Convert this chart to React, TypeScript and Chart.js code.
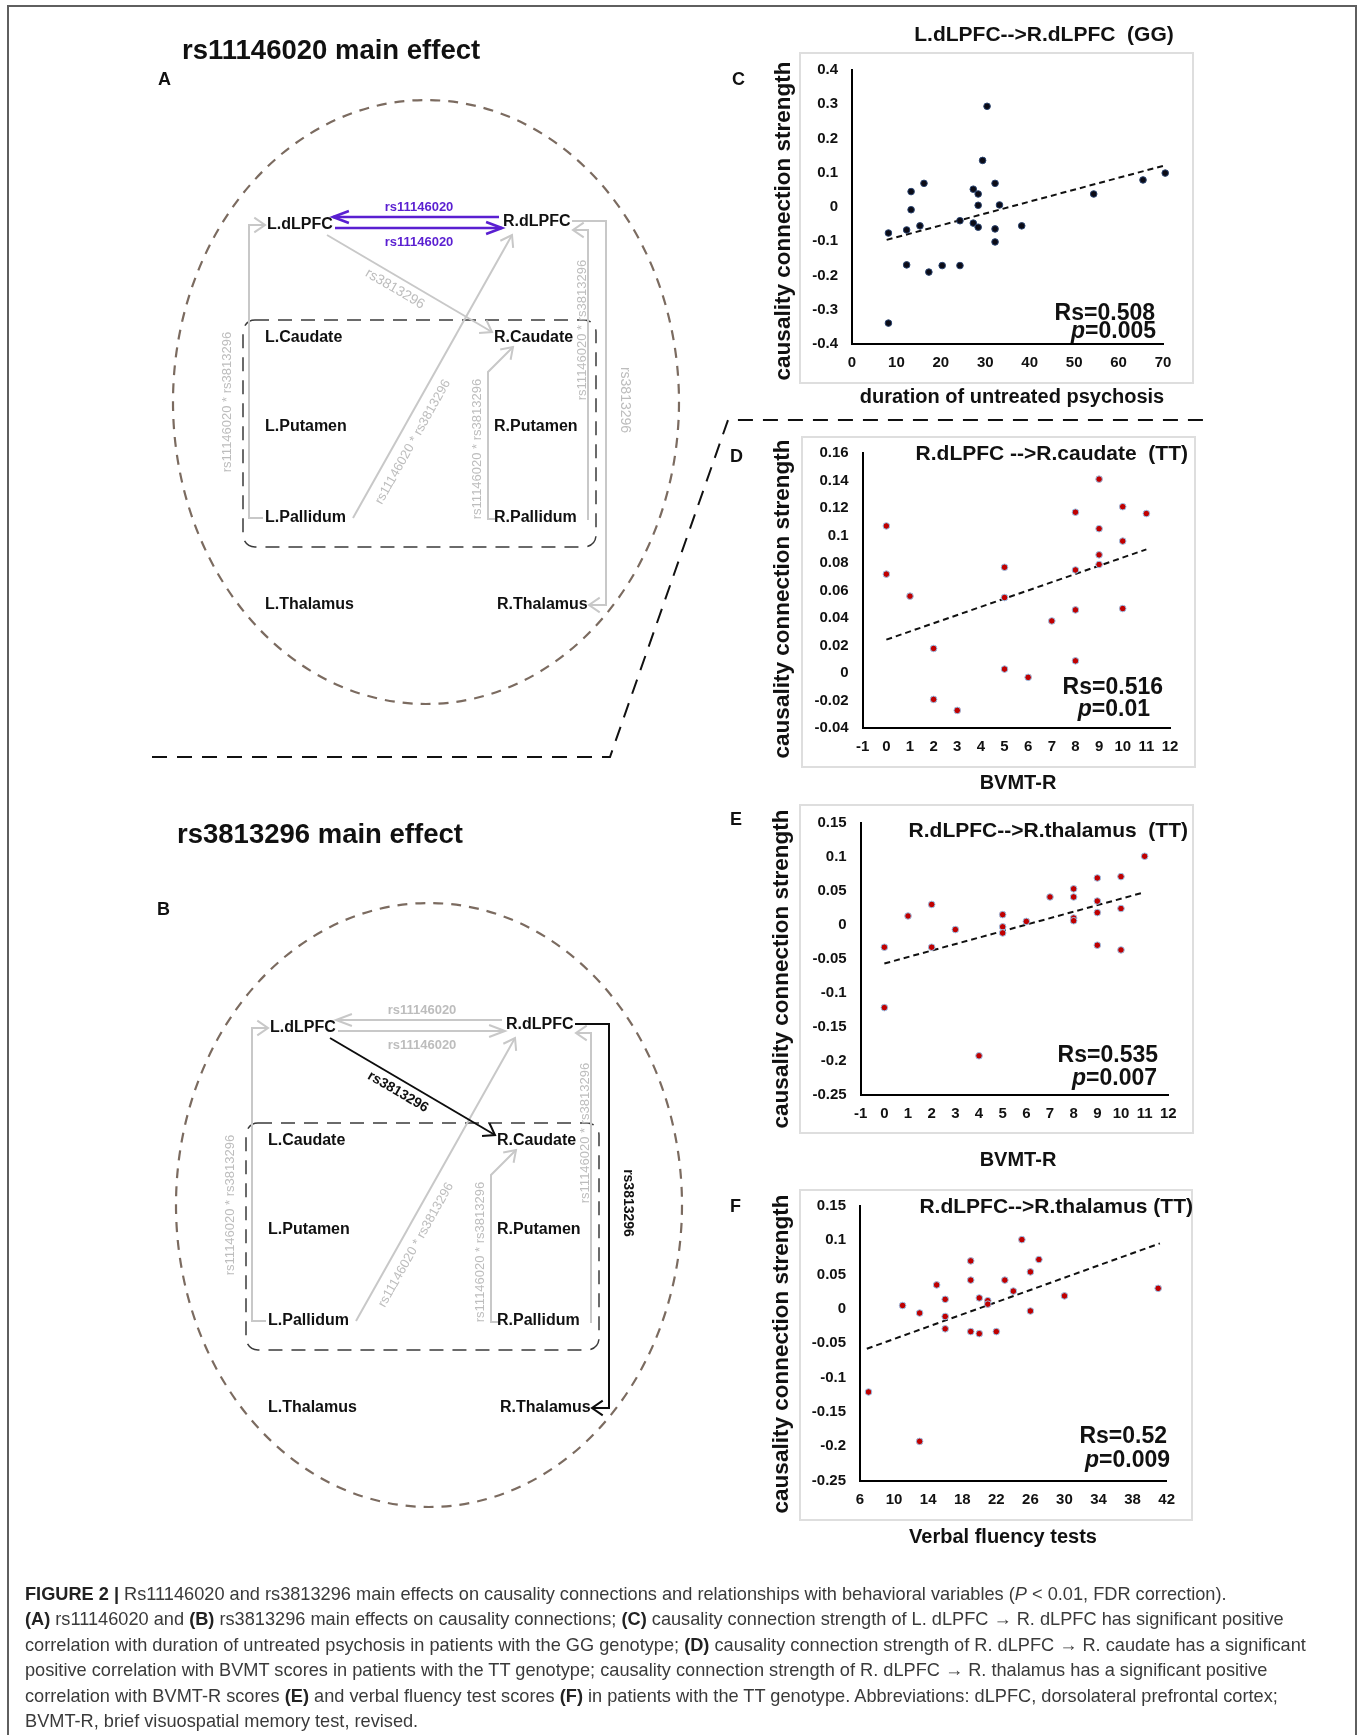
import React, { useEffect, useRef } from 'react';
import { Chart, registerables } from 'chart.js';

Chart.register(...registerables);

const FONT = '"Liberation Sans", Arial, Helvetica, sans-serif';
Chart.defaults.font.family = FONT;

// ================= Panel C data =================
const cDuration = [8.2, 8.2, 12.3, 12.3, 13.3, 13.3, 15.3, 16.2, 17.3, 20.3, 24.3, 24.3, 27.3, 27.3, 28.4, 28.4, 28.4, 29.4, 30.4, 32.2, 32.2, 32.2, 33.2, 38.2, 54.4, 65.5, 70.5, 70.5];
const cStrength = [-0.076, -0.339, -0.067, -0.169, 0.045, -0.008, -0.055, 0.069, -0.19, -0.171, -0.04, -0.171, 0.052, -0.047, 0.038, 0.005, -0.059, 0.136, 0.294, 0.069, -0.064, -0.102, 0.006, -0.055, 0.038, 0.079, 0.099, 0.089];
const cTrendX = [7.8, 70];
const cTrendY = [-0.096, 0.12];
const cXTicks = [0, 10, 20, 30, 40, 50, 60, 70];
const cXTickLabels = ['0', '10', '20', '30', '40', '50', '60', '70'];
const cYTicks = [-0.4, -0.3, -0.2, -0.1, 0, 0.1, 0.2, 0.3, 0.4];
const cYTickLabels = ['-0.4', '-0.3', '-0.2', '-0.1', '0', '0.1', '0.2', '0.3', '0.4'];
const cTitle = 'L.dLPFC-->R.dLPFC  (GG)';
const cXTitle = 'duration of untreated psychosis';
const cRs = 'Rs=0.508';
const cP = '=0.005';

// ================= Panel D data =================
const dBvmt = [0, 0, 1, 2, 2, 3, 5, 5, 5, 6, 7, 8, 8, 8, 8, 9, 9, 9, 9, 10, 10, 10, 11];
const dStrength = [0.107, 0.072, 0.056, 0.018, -0.019, -0.027, 0.077, 0.055, 0.003, -0.003, 0.038, 0.117, 0.075, 0.046, 0.009, 0.141, 0.105, 0.086, 0.079, 0.121, 0.096, 0.047, 0.116];
const dTrendX = [0, 11];
const dTrendY = [0.0244, 0.09];
const dXTicks = [-1, 0, 1, 2, 3, 4, 5, 6, 7, 8, 9, 10, 11, 12];
const dXTickLabels = ['-1', '0', '1', '2', '3', '4', '5', '6', '7', '8', '9', '10', '11', '12'];
const dYTicks = [-0.04, -0.02, 0, 0.02, 0.04, 0.06, 0.08, 0.1, 0.12, 0.14, 0.16];
const dYTickLabels = ['-0.04', '-0.02', '0', '0.02', '0.04', '0.06', '0.08', '0.1', '0.12', '0.14', '0.16'];
const dTitle = 'R.dLPFC -->R.caudate  (TT)';
const dXTitle = 'BVMT-R';
const dRs = 'Rs=0.516';
const dP = '=0.01';

// ================= Panel E data =================
const eBvmt = [0, 0, 1, 2, 2, 3, 4, 5, 5, 5, 6, 7, 8, 8, 8, 8, 9, 9, 9, 9, 10, 10, 10, 11];
const eStrength = [-0.033, -0.122, 0.013, 0.03, -0.033, -0.007, -0.193, 0.015, -0.003, -0.012, 0.005, 0.041, 0.053, 0.041, 0.01, 0.006, 0.069, 0.035, 0.018, -0.03, 0.071, 0.024, -0.037, 0.101];
const eTrendX = [0, 11];
const eTrendY = [-0.057, 0.048];
const eXTicks = [-1, 0, 1, 2, 3, 4, 5, 6, 7, 8, 9, 10, 11, 12];
const eXTickLabels = ['-1', '0', '1', '2', '3', '4', '5', '6', '7', '8', '9', '10', '11', '12'];
const eYTicks = [-0.25, -0.2, -0.15, -0.1, -0.05, 0, 0.05, 0.1, 0.15];
const eYTickLabels = ['-0.25', '-0.2', '-0.15', '-0.1', '-0.05', '0', '0.05', '0.1', '0.15'];
const eTitle = 'R.dLPFC-->R.thalamus  (TT)';
const eXTitle = 'BVMT-R';
const eRs = 'Rs=0.535';
const eP = '=0.007';

// ================= Panel F data =================
const fFluency = [7, 11, 13, 13, 15, 16, 16, 16, 19, 19, 19, 20, 20, 21, 21, 22, 23, 24, 25, 26, 26, 27, 30, 41];
const fStrength = [-0.121, 0.005, -0.006, -0.193, 0.035, 0.014, -0.011, -0.029, 0.07, 0.042, -0.033, 0.016, -0.036, 0.012, 0.007, -0.033, 0.042, 0.026, 0.101, 0.054, -0.003, 0.072, 0.019, 0.03];
const fTrendX = [6.8, 41.2];
const fTrendY = [-0.058, 0.0955];
const fXTicks = [6, 10, 14, 18, 22, 26, 30, 34, 38, 42];
const fXTickLabels = ['6', '10', '14', '18', '22', '26', '30', '34', '38', '42'];
const fYTicks = [-0.25, -0.2, -0.15, -0.1, -0.05, 0, 0.05, 0.1, 0.15];
const fYTickLabels = ['-0.25', '-0.2', '-0.15', '-0.1', '-0.05', '0', '0.05', '0.1', '0.15'];
const fTitle = 'R.dLPFC-->R.thalamus (TT)';
const fXTitle = 'Verbal fluency tests';
const fRs = 'Rs=0.52';
const fP = '=0.009';

const yAxisTitle = 'causality connection strength';

// ================= Diagram (panels A, B) =================
const diagramPanelLetters = ['A', 'B'];
const diagramTitles = ['rs11146020 main effect', 'rs3813296 main effect'];
const panelOffsetX = [0, 3];
const panelOffsetY = [0, 803];

const nodeNames = ['L.dLPFC', 'R.dLPFC', 'L.Caudate', 'R.Caudate', 'L.Putamen', 'R.Putamen', 'L.Pallidum', 'R.Pallidum', 'L.Thalamus', 'R.Thalamus'];
const nodeX = [267, 503, 265, 494, 265, 494, 265, 494, 265, 497];
const nodeY = [225, 222, 338, 338, 427, 427, 518, 518, 605, 605];

const edgeLabels = ['rs11146020', 'rs11146020', 'rs3813296', 'rs11146020 * rs3813296', 'rs11146020 * rs3813296', 'rs11146020 * rs3813296', 'rs11146020 * rs3813296', 'rs3813296'];
const edgePathX = [[499, 333], [335, 502], [327, 492], [353, 512], [263, 249, 249, 265], [495, 488, 488, 513], [588, 588, 573], [572, 606, 606, 589]];
const edgePathY = [[217, 217], [228, 228], [235, 332], [518, 235], [518, 518, 225, 225], [519, 519, 372, 347], [520, 230, 230], [221, 221, 605, 605]];
const edgeStyleA = ['purple', 'purple', 'gray', 'gray', 'gray', 'gray', 'gray', 'gray'];
const edgeStyleB = ['gray', 'gray', 'black', 'gray', 'gray', 'gray', 'gray', 'black'];
const edgeLabelX = [419, 419, 395, 413, 227, 477, 582, 625];
const edgeLabelY = [207, 242, 289, 442, 402, 449, 330, 400];
const edgeLabelAngle = [0, 0, 30.4, -60.7, -90, -90, -90, 90];

const ellipseC = [426, 402];
const ellipseR = [253, 302];
const innerBoxX = [243, 596];
const innerBoxY = [320, 547];

// dashed separator between panel A and panels C/D
const sepX = [152, 610, 728, 1206];
const sepY = [757, 757, 420, 420];

// ================= Caption =================
type Seg = [string, 'n' | 'b' | 'i'];
const captionLines: Seg[][] = [
  [['FIGURE 2 |', 'b'], [' Rs11146020 and rs3813296 main effects on causality connections and relationships with behavioral variables (', 'n'], ['P', 'i'], [' < 0.01, FDR correction).', 'n']],
  [['(A)', 'b'], [' rs11146020 and ', 'n'], ['(B)', 'b'], [' rs3813296 main effects on causality connections; ', 'n'], ['(C)', 'b'], [' causality connection strength of L. dLPFC \u2192 R. dLPFC has significant positive', 'n']],
  [['correlation with duration of untreated psychosis in patients with the GG genotype; ', 'n'], ['(D)', 'b'], [' causality connection strength of R. dLPFC \u2192 R. caudate has a significant', 'n']],
  [['positive correlation with BVMT scores in patients with the TT genotype; causality connection strength of R. dLPFC \u2192 R. thalamus has a significant positive', 'n']],
  [['correlation with BVMT-R scores ', 'n'], ['(E)', 'b'], [' and verbal fluency test scores ', 'n'], ['(F)', 'b'], [' in patients with the TT genotype. Abbreviations: dLPFC, dorsolateral prefrontal cortex;', 'n']],
  [['BVMT-R, brief visuospatial memory test, revised.', 'n']],
];

// ================= helpers =================
function drawText(ctx: CanvasRenderingContext2D, text: string, x: number, y: number, font: string, align: CanvasTextAlign, baseline: CanvasTextBaseline, color: string, rot = 0) {
  ctx.save();
  ctx.font = font;
  ctx.fillStyle = color;
  ctx.textAlign = align;
  ctx.textBaseline = baseline;
  ctx.translate(x, y);
  if (rot) ctx.rotate((rot * Math.PI) / 180);
  ctx.fillText(text, 0, 0);
  ctx.restore();
}

interface Rect { left: number; top: number; right: number; bottom: number }
interface PanelSpec {
  letter: string;
  xs: number[]; ys: number[]; trendX: number[]; trendY: number[];
  xTicks: number[]; xTickLabels: string[]; yTicks: number[]; yTickLabels: string[];
  title: string; xTitle: string; rs: string; p: string;
  dotFill: string; dotEdge: string;
  canvas: { left: number; top: number; width: number; height: number };
  area: Rect; frame: Rect;
  letterPos: number[];
  titlePos: number[]; titleAlign: CanvasTextAlign;
  yTitlePos: number[]; xTitlePos: number[];
  rsPos: number[]; pPos: number[];
}

const Y_W = 70;
const X_H = 40;

function buildScatter(s: PanelSpec): any {
  const pts = s.xs.map((x, i) => ({ x, y: s.ys[i] }));
  const trend = s.trendX.map((x, i) => ({ x, y: s.trendY[i] }));
  const c = s.canvas;
  const a = s.area;
  const ox = c.left;
  const oy = c.top;
  const decor = {
    id: 'decor' + s.letter,
    beforeDraw(chart: any) {
      const ctx = chart.ctx as CanvasRenderingContext2D;
      ctx.save();
      ctx.strokeStyle = '#dedede';
      ctx.lineWidth = 2;
      ctx.strokeRect(s.frame.left - ox, s.frame.top - oy, s.frame.right - s.frame.left, s.frame.bottom - s.frame.top);
      ctx.restore();
    },
    afterDraw(chart: any) {
      const ctx = chart.ctx as CanvasRenderingContext2D;
      drawText(ctx, s.letter, s.letterPos[0] - ox, s.letterPos[1] - oy, `bold 18px ${FONT}`, 'left', 'alphabetic', '#111');
      drawText(ctx, s.title, s.titlePos[0] - ox, s.titlePos[1] - oy, `bold 21px ${FONT}`, s.titleAlign, 'alphabetic', '#111');
      drawText(ctx, yAxisTitle, s.yTitlePos[0] - ox, s.yTitlePos[1] - oy, `bold 22.5px ${FONT}`, 'center', 'middle', '#111', -90);
      drawText(ctx, s.xTitle, s.xTitlePos[0] - ox, s.xTitlePos[1] - oy, `bold 20px ${FONT}`, 'center', 'alphabetic', '#111');
      drawText(ctx, s.rs, s.rsPos[0] - ox, s.rsPos[1] - oy, `bold 23px ${FONT}`, 'right', 'alphabetic', '#111');
      drawText(ctx, s.p, s.pPos[0] - ox, s.pPos[1] - oy, `bold 23px ${FONT}`, 'right', 'alphabetic', '#111');
      ctx.save();
      ctx.font = `bold 23px ${FONT}`;
      const w = ctx.measureText(s.p).width;
      ctx.restore();
      drawText(ctx, 'p', s.pPos[0] - ox - w, s.pPos[1] - oy, `italic bold 23px ${FONT}`, 'right', 'alphabetic', '#111');
    },
  };
  const tickFont = { size: 15, weight: 'bold' as const, family: FONT };
  return {
    type: 'scatter',
    data: {
      datasets: [
        { type: 'scatter', data: pts, backgroundColor: s.dotFill, borderColor: s.dotEdge, borderWidth: 1, pointRadius: 3.3, order: 0, clip: false },
        { type: 'line', data: trend, borderColor: '#111', borderWidth: 2, borderDash: [6, 4], pointRadius: 0, fill: false, tension: 0, order: 1, clip: false },
      ],
    },
    options: {
      responsive: false,
      animation: false,
      events: [],
      layout: {
        padding: {
          left: a.left - c.left - Y_W,
          top: a.top - c.top,
          right: c.left + c.width - a.right,
          bottom: c.top + c.height - a.bottom - X_H,
        },
      },
      plugins: { legend: { display: false }, tooltip: { enabled: false }, title: { display: false } },
      scales: {
        x: {
          type: 'linear',
          position: 'bottom',
          min: s.xTicks[0],
          max: s.xTicks[s.xTicks.length - 1],
          grid: { display: false, drawTicks: false },
          border: { display: true, color: '#000', width: 2 },
          ticks: { autoSkip: false, maxRotation: 0, padding: 10, color: '#111', font: tickFont, callback: (_v: any, i: number) => s.xTickLabels[i] },
          afterBuildTicks: (sc: any) => { sc.ticks = s.xTicks.map((v) => ({ value: v })); },
          afterFit: (sc: any) => { sc.height = X_H; },
        },
        y: {
          type: 'linear',
          position: 'left',
          min: s.yTicks[0],
          max: s.yTicks[s.yTicks.length - 1],
          grid: { display: false, drawTicks: false },
          border: { display: true, color: '#000', width: 2 },
          ticks: { autoSkip: false, padding: 14, color: '#111', font: tickFont, callback: (_v: any, i: number) => s.yTickLabels[i] },
          afterBuildTicks: (sc: any) => { sc.ticks = s.yTicks.map((v) => ({ value: v })); },
          afterFit: (sc: any) => { sc.width = Y_W; },
        },
      },
    },
    plugins: [decor],
  };
}

const RED = '#c00000';
const RED_EDGE = '#9cc3e8';

const specs: PanelSpec[] = [
  {
    letter: 'C', xs: cDuration, ys: cStrength, trendX: cTrendX, trendY: cTrendY,
    xTicks: cXTicks, xTickLabels: cXTickLabels, yTicks: cYTicks, yTickLabels: cYTickLabels,
    title: cTitle, xTitle: cXTitle, rs: cRs, p: cP, dotFill: '#0b0b16', dotEdge: '#2a4470',
    canvas: { left: 720, top: 10, width: 490, height: 405 },
    area: { left: 852, top: 70, right: 1163, bottom: 344 },
    frame: { left: 800, top: 53, right: 1193, bottom: 383 },
    letterPos: [732, 85], titlePos: [1044, 41], titleAlign: 'center',
    yTitlePos: [783.5, 221], xTitlePos: [1012, 403],
    rsPos: [1155, 320], pPos: [1156, 338],
  },
  {
    letter: 'D', xs: dBvmt, ys: dStrength, trendX: dTrendX, trendY: dTrendY,
    xTicks: dXTicks, xTickLabels: dXTickLabels, yTicks: dYTicks, yTickLabels: dYTickLabels,
    title: dTitle, xTitle: dXTitle, rs: dRs, p: dP, dotFill: RED, dotEdge: RED_EDGE,
    canvas: { left: 720, top: 425, width: 490, height: 375 },
    area: { left: 862.7, top: 453, right: 1170, bottom: 728.3 },
    frame: { left: 802, top: 437, right: 1195, bottom: 767 },
    letterPos: [730, 461.7], titlePos: [1188, 460], titleAlign: 'right',
    yTitlePos: [782.5, 599], xTitlePos: [1018, 789.3],
    rsPos: [1163, 694], pPos: [1150, 716],
  },
  {
    letter: 'E', xs: eBvmt, ys: eStrength, trendX: eTrendX, trendY: eTrendY,
    xTicks: eXTicks, xTickLabels: eXTickLabels, yTicks: eYTicks, yTickLabels: eYTickLabels,
    title: eTitle, xTitle: eXTitle, rs: eRs, p: eP, dotFill: RED, dotEdge: RED_EDGE,
    canvas: { left: 720, top: 800, width: 490, height: 375 },
    area: { left: 860.7, top: 820, right: 1168.3, bottom: 1094.5 },
    frame: { left: 800, top: 805, right: 1193, bottom: 1133 },
    letterPos: [730, 825], titlePos: [1188, 836.7], titleAlign: 'right',
    yTitlePos: [781.5, 969], xTitlePos: [1018, 1165.7],
    rsPos: [1158, 1061.7], pPos: [1157, 1085],
  },
  {
    letter: 'F', xs: fFluency, ys: fStrength, trendX: fTrendX, trendY: fTrendY,
    xTicks: fXTicks, xTickLabels: fXTickLabels, yTicks: fYTicks, yTickLabels: fYTickLabels,
    title: fTitle, xTitle: fXTitle, rs: fRs, p: fP, dotFill: RED, dotEdge: RED_EDGE,
    canvas: { left: 720, top: 1180, width: 490, height: 375 },
    area: { left: 860, top: 1206, right: 1166.7, bottom: 1480.5 },
    frame: { left: 800, top: 1190, right: 1192, bottom: 1520 },
    letterPos: [730, 1211.7], titlePos: [1193, 1213.3], titleAlign: 'right',
    yTitlePos: [781.5, 1354], xTitlePos: [1003, 1542.7],
    rsPos: [1167, 1442.7], pPos: [1170, 1467.3],
  },
];

function buildDiagram(): any {
  const nodePts: { x: number; y: number }[] = [];
  panelOffsetX.forEach((ox, p) => {
    nodeX.forEach((x, i) => nodePts.push({ x: x + ox, y: nodeY[i] + panelOffsetY[p] }));
  });
  const sepPts = sepX.map((x, i) => ({ x, y: sepY[i] }));
  const styles = [edgeStyleA, edgeStyleB];
  const titlePos = [[182, 59.3], [177, 842.7]];
  const letterPos = [[158, 85], [157, 915]];

  const plugin = {
    id: 'diagram',
    afterDatasetsDraw(chart: any) {
      const ctx = chart.ctx as CanvasRenderingContext2D;
      const X = (v: number) => chart.scales.x.getPixelForValue(v);
      const Y = (v: number) => chart.scales.y.getPixelForValue(v);

      // outer frame
      ctx.save();
      ctx.strokeStyle = '#5f5f5f';
      ctx.lineWidth = 2;
      ctx.beginPath();
      ctx.moveTo(X(8), Y(1735));
      ctx.lineTo(X(8), Y(6));
      ctx.lineTo(X(1356), Y(6));
      ctx.lineTo(X(1356), Y(1735));
      ctx.stroke();
      ctx.restore();

      const meta = chart.getDatasetMeta(0);

      for (let p = 0; p < 2; p++) {
        const ox = panelOffsetX[p];
        const oy = panelOffsetY[p];
        drawText(ctx, diagramTitles[p], X(titlePos[p][0]), Y(titlePos[p][1]), `bold 27.5px ${FONT}`, 'left', 'alphabetic', '#111');
        drawText(ctx, diagramPanelLetters[p], X(letterPos[p][0]), Y(letterPos[p][1]), `bold 18px ${FONT}`, 'left', 'alphabetic', '#111');

        // ellipse
        ctx.save();
        ctx.strokeStyle = '#7b6b60';
        ctx.lineWidth = 2.2;
        ctx.setLineDash([10, 8]);
        ctx.beginPath();
        ctx.ellipse(X(ellipseC[0] + ox), Y(ellipseC[1] + oy), X(ellipseR[0]) - X(0), Y(ellipseR[1]) - Y(0), 0, 0, Math.PI * 2);
        ctx.stroke();
        ctx.restore();

        // inner dashed rounded box
        const bx0 = X(innerBoxX[0] + ox), bx1 = X(innerBoxX[1] + ox);
        const by0 = Y(innerBoxY[0] + oy), by1 = Y(innerBoxY[1] + oy);
        const r = 12;
        ctx.save();
        ctx.strokeStyle = '#3a3a3a';
        ctx.lineWidth = 1.5;
        ctx.setLineDash([14, 9]);
        ctx.beginPath();
        ctx.moveTo(bx0 + r, by0);
        ctx.lineTo(bx1 - r, by0);
        ctx.arcTo(bx1, by0, bx1, by0 + r, r);
        ctx.lineTo(bx1, by1 - r);
        ctx.arcTo(bx1, by1, bx1 - r, by1, r);
        ctx.lineTo(bx0 + r, by1);
        ctx.arcTo(bx0, by1, bx0, by1 - r, r);
        ctx.lineTo(bx0, by0 + r);
        ctx.arcTo(bx0, by0, bx0 + r, by0, r);
        ctx.stroke();
        ctx.restore();

        // edges (gray first, highlighted on top)
        const order = edgePathX.map((_, e) => e).sort((a, b) => (styles[p][a] === 'gray' ? 0 : 1) - (styles[p][b] === 'gray' ? 0 : 1));
        for (const e of order) {
          const st = styles[p][e];
          const color = st === 'purple' ? '#5a1fd1' : st === 'black' ? '#0d0d0d' : '#c8c8c8';
          const px = edgePathX[e].map((v) => X(v + ox));
          const py = edgePathY[e].map((v) => Y(v + oy));
          ctx.save();
          ctx.strokeStyle = color;
          ctx.lineWidth = st === 'purple' ? 2.6 : 2;
          ctx.lineJoin = 'miter';
          ctx.beginPath();
          px.forEach((x, k) => (k ? ctx.lineTo(x, py[k]) : ctx.moveTo(x, py[k])));
          ctx.stroke();
          const n = px.length;
          const ang = Math.atan2(py[n - 1] - py[n - 2], px[n - 1] - px[n - 2]);
          const len = e < 2 ? 17 : 13;
          const spread = e < 2 ? 0.36 : 0.6;
          ctx.beginPath();
          ctx.moveTo(px[n - 1] - len * Math.cos(ang - spread), py[n - 1] - len * Math.sin(ang - spread));
          ctx.lineTo(px[n - 1], py[n - 1]);
          ctx.lineTo(px[n - 1] - len * Math.cos(ang + spread), py[n - 1] - len * Math.sin(ang + spread));
          ctx.stroke();
          ctx.restore();

          const lblColor = st === 'purple' ? '#5a1fd1' : st === 'black' ? '#111' : '#bdbdbd';
          const bold = e < 2 || st !== 'gray';
          const size = e === 2 || e === 7 ? 14 : 13;
          drawText(ctx, edgeLabels[e], X(edgeLabelX[e] + ox), Y(edgeLabelY[e] + oy), `${bold ? 'bold ' : ''}${size}px ${FONT}`, 'center', 'middle', lblColor, edgeLabelAngle[e]);
        }

        // node labels
        for (let i = 0; i < nodeNames.length; i++) {
          const el = meta.data[p * nodeNames.length + i];
          drawText(ctx, nodeNames[i], el.x, el.y, `bold 16px ${FONT}`, 'left', 'middle', '#111');
        }
      }
    },
  };

  return {
    type: 'scatter',
    data: {
      datasets: [
        { data: nodePts, pointRadius: 0, backgroundColor: 'rgba(0,0,0,0)', borderColor: 'rgba(0,0,0,0)' },
        { type: 'line', data: sepPts, borderColor: '#111', borderWidth: 2, borderDash: [15, 10], pointRadius: 0, fill: false, tension: 0 },
      ],
    },
    options: {
      responsive: false,
      animation: false,
      events: [],
      layout: { padding: 0 },
      plugins: { legend: { display: false }, tooltip: { enabled: false } },
      scales: {
        x: { type: 'linear', min: 0, max: 1360, display: false },
        y: { type: 'linear', min: 0, max: 1735, reverse: true, display: false },
      },
    },
    plugins: [plugin],
  };
}

function ChartCanvas({ left, top, width, height, build }: { left: number; top: number; width: number; height: number; build: () => any }) {
  const ref = useRef<HTMLCanvasElement | null>(null);
  useEffect(() => {
    if (!ref.current) return;
    const chart = new Chart(ref.current, build());
    return () => chart.destroy();
  }, []);
  return (
    <canvas
      ref={ref}
      width={width}
      height={height}
      style={{ position: 'absolute', left, top, width, height }}
    />
  );
}

export default function App() {
  return (
    <div style={{ position: 'absolute', left: 0, top: 0, width: 1360, height: 1735, background: '#fff', overflow: 'hidden' }}>
      <ChartCanvas left={0} top={0} width={1360} height={1735} build={buildDiagram} />
      {specs.map((s) => (
        <ChartCanvas key={s.letter} left={s.canvas.left} top={s.canvas.top} width={s.canvas.width} height={s.canvas.height} build={() => buildScatter(s)} />
      ))}
      <div
        style={{
          position: 'absolute',
          left: 25,
          top: 1582,
          fontFamily: FONT,
          fontSize: 18.2,
          lineHeight: '25.4px',
          color: '#3a3a3a',
        }}
      >
        {captionLines.map((line, li) => (
          <div key={li} style={{ whiteSpace: 'nowrap' }}>
            {line.map(([t, k], si) => (
              <span key={si} style={{ fontWeight: k === 'b' ? 'bold' : 'normal', fontStyle: k === 'i' ? 'italic' : 'normal', color: k === 'b' ? '#222' : undefined }}>
                {t}
              </span>
            ))}
          </div>
        ))}
      </div>
    </div>
  );
}
